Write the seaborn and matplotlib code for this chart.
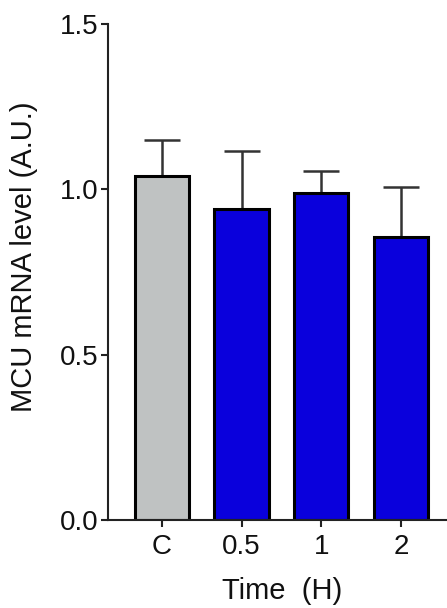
import matplotlib
matplotlib.use("Agg")
import matplotlib.pyplot as plt
import seaborn as sns
import pandas as pd

# данные
categories = ["C", "0.5", "1", "2"]
means = [1.04, 0.94, 0.99, 0.855]
sem = [0.108, 0.177, 0.065, 0.153]
colors = ["#bfc2c2", "#0a00dc", "#0a00dc", "#0a00dc"]

sns.set_style("ticks")
plt.rcParams["font.family"] = ["Liberation Sans", "DejaVu Sans"]
plt.rcParams["text.color"] = "#111111"
plt.rcParams["axes.labelcolor"] = "#111111"

df = pd.DataFrame({"time": categories, "value": means})

fig = plt.figure(figsize=(4.47, 6.08), dpi=100)
ax = fig.add_axes([0.2416, 0.1447, 0.7584, 0.8158])

sns.barplot(data=df, x="time", y="value", hue="time", palette=colors,
            order=categories, hue_order=categories, dodge=False, legend=False,
            errorbar=None, width=0.68, edgecolor="black", linewidth=2.2, ax=ax,
            saturation=1)

ax.errorbar(range(len(categories)), means, yerr=[[0] * len(sem), sem],
            fmt="none", ecolor="#333333", elinewidth=1.8, capsize=13,
            capthick=1.8, zorder=0)

ax.set_ylim(0, 1.5)
ax.set_xlim(-0.675, 3.575)
ax.set_yticks([0, 0.5, 1.0, 1.5])
ax.set_yticklabels(["0.0", "0.5", "1.0", "1.5"])
ax.tick_params(axis="both", labelsize=20, width=1.5, length=5,
               color="#222222", labelcolor="#111111")
ax.tick_params(axis="y", pad=2)
ax.tick_params(axis="x", pad=5)
ax.set_xlabel("Time  (H)", fontsize=21)
ax.set_ylabel("MCU mRNA level (A.U.)", fontsize=21)
ax.xaxis.set_label_coords(0.513, -0.115)
ax.yaxis.set_label_coords(-0.205, 0.53)

for side in ["top", "right"]:
    ax.spines[side].set_visible(False)
for side in ["left", "bottom"]:
    ax.spines[side].set_linewidth(1.5)
    ax.spines[side].set_color("#222222")

fig.savefig("out.png", dpi=100)
plt.close(fig)
